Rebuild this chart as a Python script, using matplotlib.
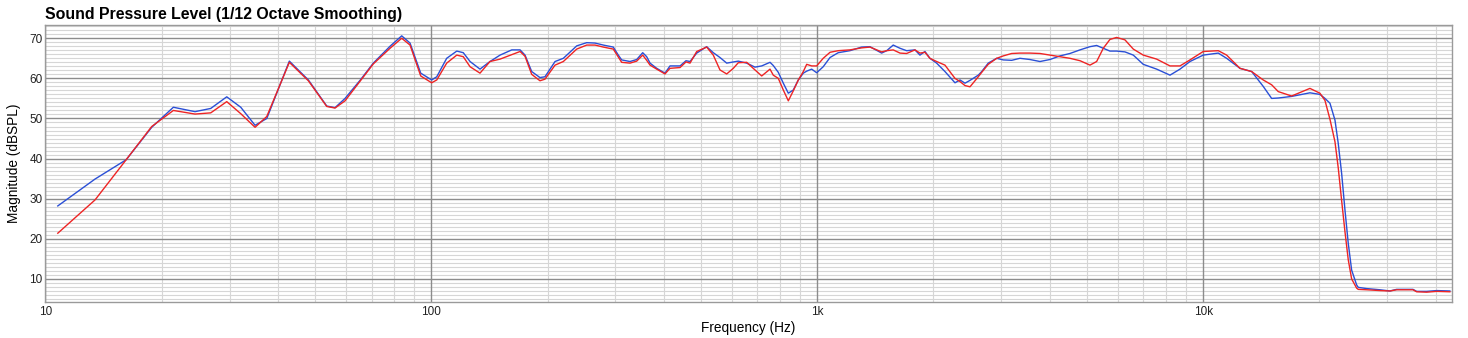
import matplotlib
matplotlib.use("Agg")
import matplotlib.pyplot as plt
from matplotlib.ticker import FixedLocator, NullFormatter, MultipleLocator

plt.rcParams['font.family'] = ['Liberation Sans', 'DejaVu Sans']

# Frequenzpunkte (Hz) und Pegel (dBSPL) der beiden Messungen
freq = [10.77, 13.45, 16.19, 18.86, 21.46, 24.42, 26.82, 29.51, 32.08, 34.94,
        37.47, 42.87, 48.02, 53.58, 56.30, 59.77, 65.36, 70.74, 78.16, 83.80,
        88.07, 93.87, 100.2, 103.3, 109.6, 116.4, 121.0, 126.0, 133.7, 141.9,
        150.7, 161.6, 169.8, 174.9, 182.0, 191.2, 197.0, 209.2, 219.8, 238.1,
        252.7, 265.6, 279.0, 296.1, 305.1, 311.3, 327.2, 340.5, 352.9, 361.4,
        368.7, 383.7, 403.1, 415.3, 441.0, 456.9, 468.0, 487.1, 516.9, 537.7,
        559.6, 582.5, 605.9, 624.2, 656.3, 689.6, 717.8, 754.3, 769.1, 792.5,
        816.5, 841.3, 866.7, 893.0, 920.0, 938.8, 967.1, 996.3, 1036, 1079,
        1133, 1215, 1303, 1369, 1468, 1513, 1573, 1638, 1704, 1791,
        1845, 1901, 1958, 2038, 2142, 2274, 2343, 2414, 2487, 2613,
        2667, 2773, 2916, 3033, 3189, 3351, 3556, 3776, 4007, 4254,
        4514, 4794, 5088, 5294, 5508, 5731, 5965, 6268, 6588, 6991,
        7574, 8201, 8704, 9239, 10000, 10937, 11498, 12452, 13350, 14302,
        15039, 15645, 16943, 18898, 20060, 20672, 21297, 21943, 22375, 22834,
        23290, 23751, 24237, 24973, 25210, 26500, 28695, 30460, 31700, 34940,
        35720, 37920, 40250, 43550]

spl_blue = [28.2, 34.9, 39.7, 47.8, 52.8, 51.7, 52.5, 55.4, 52.8, 48.3,
            50.0, 64.3, 59.6, 53.1, 52.7, 55.0, 59.5, 63.8, 68.0, 70.6,
            68.8, 61.3, 59.6, 60.4, 65.0, 66.8, 66.4, 64.2, 62.3, 64.2,
            65.8, 67.1, 67.1, 65.8, 61.7, 60.2, 60.4, 64.2, 65.0, 68.1,
            68.9, 68.8, 68.3, 67.8, 65.8, 64.6, 64.2, 64.7, 66.4, 65.4,
            63.8, 62.5, 61.3, 63.1, 63.1, 64.4, 64.2, 66.3, 67.9, 66.4,
            65.2, 63.8, 64.1, 64.3, 63.8, 62.8, 63.1, 64.0, 63.2, 61.5,
            58.8, 56.3, 57.1, 59.6, 61.3, 61.8, 62.3, 61.4, 62.9, 65.2,
            66.4, 66.9, 67.8, 67.9, 66.3, 66.9, 68.3, 67.5, 66.9, 67.1,
            65.8, 66.7, 65.0, 63.8, 61.7, 58.9, 59.6, 58.8, 59.5, 60.8,
            61.7, 63.8, 65.0, 64.6, 64.5, 65.0, 64.7, 64.2, 64.7, 65.6,
            66.2, 67.1, 67.9, 68.2, 67.5, 66.8, 66.8, 66.6, 65.8, 63.5,
            62.3, 60.8, 62.3, 64.2, 65.8, 66.3, 65.0, 62.5, 61.7, 58.0,
            55.0, 55.1, 55.5, 56.4, 56.0, 55.0, 53.8, 49.6, 43.8, 36.3,
            27.2, 18.9, 12.2, 8.5, 7.9, 7.6, 7.3, 7.0, 7.4, 7.4,
            6.9, 6.9, 7.1, 7.0]

spl_red = [21.4, 29.7, 39.7, 48.0, 52.0, 51.1, 51.4, 54.2, 51.2, 47.8,
           50.5, 64.0, 59.4, 53.0, 52.6, 54.4, 59.3, 63.6, 67.5, 70.0,
           68.3, 60.6, 58.9, 59.6, 63.8, 65.8, 65.4, 62.9, 61.3, 64.2,
           64.8, 65.9, 66.7, 65.5, 61.0, 59.4, 59.8, 63.3, 64.2, 67.3,
           68.3, 68.3, 67.8, 67.3, 65.3, 64.0, 63.8, 64.3, 65.8, 64.5,
           63.3, 62.3, 61.1, 62.5, 62.7, 64.1, 63.8, 66.7, 67.8, 65.8,
           62.1, 61.1, 62.5, 63.9, 64.0, 62.1, 60.6, 62.3, 60.8, 60.0,
           57.1, 54.4, 56.9, 59.6, 61.7, 63.5, 63.1, 63.1, 65.0, 66.5,
           66.9, 67.1, 67.6, 67.8, 66.6, 66.9, 67.1, 66.3, 66.2, 67.1,
           66.3, 66.5, 65.0, 64.2, 63.3, 60.0, 59.2, 58.2, 57.9, 60.4,
           61.5, 63.5, 65.0, 65.6, 66.2, 66.3, 66.3, 66.2, 65.8, 65.4,
           65.0, 64.4, 63.3, 64.2, 67.5, 69.7, 70.2, 69.6, 67.3, 65.8,
           64.8, 63.1, 63.1, 64.6, 66.7, 66.9, 65.8, 62.5, 61.7, 59.6,
           58.4, 56.7, 55.6, 57.5, 56.3, 54.5, 49.8, 44.2, 37.7, 29.5,
           21.8, 14.8, 10.0, 7.7, 7.4, 7.3, 7.1, 7.0, 7.3, 7.3,
           6.8, 6.7, 6.9, 6.8]

x_ticks = [10, 100, 1000, 10000]
x_tick_labels = ["10", "100", "1k", "10k"]

fig = plt.figure(figsize=(14.68, 3.38), dpi=100)
ax = fig.add_axes([0.0309, 0.1065, 0.9580, 0.8195])

ax.plot(freq, spl_blue, color="#2a4fd6", lw=1.0, zorder=3)
ax.plot(freq, spl_red, color="#ee2424", lw=1.0, zorder=3)

ax.set_xscale("log")
ax.set_xlim(10, 44030)
ax.set_ylim(4.25, 73.3)

# Dekaden als Hauptgitter, 2..9 als Nebengitter
ax.xaxis.set_major_locator(FixedLocator(x_ticks))
ax.set_xticklabels(x_tick_labels)
minor_x = [m * 10 ** d for d in range(1, 5) for m in range(2, 10)]
ax.xaxis.set_minor_locator(FixedLocator(minor_x))
ax.xaxis.set_minor_formatter(NullFormatter())
ax.yaxis.set_major_locator(MultipleLocator(10))
ax.yaxis.set_minor_locator(MultipleLocator(1))

# Nebengitter über die Achse, Hauptgitter darüber, damit es durchgehend bleibt
ax.grid(which="minor", color="#d6d6d6", lw=0.8)
ax.set_axisbelow(True)
for xt in ax.get_xticks():
    ax.axvline(xt, color="#8c8c8c", lw=1.0, zorder=1)
for yt in ax.get_yticks():
    if 4.25 < yt < 73.3:
        ax.axhline(yt, color="#8c8c8c", lw=1.0, zorder=1)

ax.tick_params(which="both", length=0, labelsize=8.5, colors="#222222")
ax.tick_params(axis="x", pad=3)
ax.tick_params(axis="y", pad=2)
for sp in ax.spines.values():
    sp.set_color("#9a9a9a")
    sp.set_linewidth(1.0)
    sp.set_zorder(4)

ax.set_title("Sound Pressure Level (1/12 Octave Smoothing)", loc="left",
             fontsize=11.4, fontweight="bold", pad=4)
ax.set_xlabel("Frequency (Hz)", fontsize=9.8, labelpad=2)
ax.set_ylabel("Magnitude (dBSPL)", fontsize=9.8, labelpad=6)

fig.savefig("out.png", dpi=100)
